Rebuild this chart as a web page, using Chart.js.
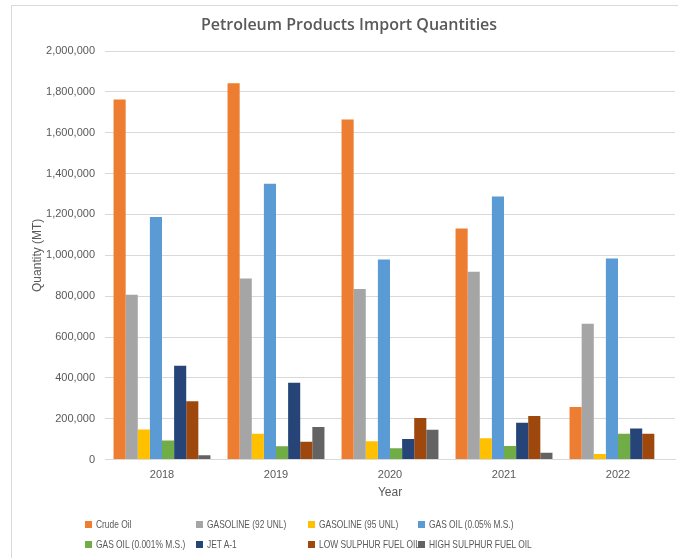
<!DOCTYPE html>
<html>
<head>
<meta charset="utf-8">
<title>Petroleum Products Import Quantities</title>
<script src="https://cdn.jsdelivr.net/npm/chart.js@4.4.1/dist/chart.umd.min.js"></script>
<style>
  body { margin: 0; background: #fff; }
  #wrap { position: relative; width: 678px; height: 558px; overflow: hidden; }
  #frame { position: absolute; left: 11px; top: 5px; width: 700px; height: 600px;
           border-left: 1px solid #d9d9d9; border-top: 1px solid #d9d9d9; }
  #myChart { position: absolute; left: 0; top: 0; }
  .lg { position: absolute; font: 11.5px "Liberation Sans", sans-serif;
        color: #595959; white-space: nowrap; line-height: 14px; }
  .lg i { display: inline-block; width: 7px; height: 7px; margin-right: 4px; vertical-align: 0px; }
  .lg span { display: inline-block; transform: scaleX(0.73); transform-origin: 0 50%; }
</style>
</head>
<body>
<div id="wrap">
  <div id="frame"></div>
  <canvas id="myChart" width="678" height="558"></canvas>
  <div id="legend"></div>
</div>
<script>
const years = ['2018', '2019', '2020', '2021', '2022'];

const crudeOil    = [1763000, 1842000, 1665000, 1131000, 258000];
const gasoline92  = [807000, 887000, 835000, 920000, 665000];
const gasoline95  = [147000, 127000, 90000, 105000, 28000];
const gasOil005   = [1188000, 1350000, 979000, 1288000, 984000];
const gasOil0001  = [93000, 65000, 55000, 67000, 127000];
const jetA1       = [459000, 376000, 101000, 180000, 152000];
const lowSulphur  = [286000, 87000, 204000, 214000, 126000];
const highSulphur = [21000, 160000, 146000, 33000, 0];

const yTicks = [0, 200000, 400000, 600000, 800000, 1000000, 1200000, 1400000, 1600000, 1800000, 2000000];

Chart.defaults.font.family = '"Liberation Sans", sans-serif';
Chart.defaults.color = '#595959';

const ctx = document.getElementById('myChart');

const chart = new Chart(ctx, {
  type: 'bar',
  data: {
    labels: years,
    datasets: [
      { label: 'Crude Oil', data: crudeOil, backgroundColor: '#ED7D31' },
      { label: 'GASOLINE (92 UNL)', data: gasoline92, backgroundColor: '#A5A5A5' },
      { label: 'GASOLINE (95 UNL)', data: gasoline95, backgroundColor: '#FFC000' },
      { label: 'GAS OIL (0.05% M.S.)', data: gasOil005, backgroundColor: '#5B9BD5' },
      { label: 'GAS OIL (0.001% M.S.)', data: gasOil0001, backgroundColor: '#70AD47' },
      { label: 'JET A-1', data: jetA1, backgroundColor: '#264478' },
      { label: 'LOW SULPHUR FUEL OIL', data: lowSulphur, backgroundColor: '#9E480E' },
      { label: 'HIGH SULPHUR FUEL OIL', data: highSulphur, backgroundColor: '#636363' }
    ]
  },
  options: {
    responsive: false,
    animation: false,
    categoryPercentage: 0.85,
    barPercentage: 1.0,
    layout: { padding: { left: 23, right: 3, top: 0, bottom: 57 } },
    plugins: {
      legend: { display: false },
      tooltip: { enabled: false },
      title: {
        display: true,
        text: 'Petroleum Products Import Quantities',
        color: '#595959',
        font: { family: '"Open Sans", sans-serif', size: 16, weight: '600' },
        padding: { top: 16, bottom: 15.8 }
      }
    },
    scales: {
      x: {
        grid: { display: false, drawTicks: false },
        border: { color: '#d9d9d9' },
        ticks: { padding: 10, font: { size: 11, lineHeight: 1 } },
        title: { display: true, text: 'Year', font: { size: 12 }, padding: { top: -5, bottom: 1 } }
      },
      y: {
        min: 0,
        max: 2000000,
        afterBuildTicks: (scale) => { scale.ticks = yTicks.map(v => ({ value: v })); },
        afterFit: (scale) => { scale.width = 82; },
        grid: { color: '#d9d9d9', drawTicks: false },
        border: { display: false },
        ticks: {
          padding: 10,
          font: { size: 11 },
          callback: (v) => v.toLocaleString('en-US')
        },
        title: { display: true, text: 'Quantity (MT)', font: { size: 12 }, padding: { top: 7, bottom: 0 } }
      }
    }
  }
});

// legend laid out as a 4-column grid under the plot
const legendCols = [85, 196, 308, 418];
const legendRows = [517, 537];
const legendBox = document.getElementById('legend');
chart.data.datasets.forEach((ds, i) => {
  const item = document.createElement('div');
  item.className = 'lg';
  item.style.left = legendCols[i % 4] + 'px';
  item.style.top = legendRows[Math.floor(i / 4)] + 'px';
  const swatch = document.createElement('i');
  swatch.style.background = ds.backgroundColor;
  const text = document.createElement('span');
  text.textContent = ds.label;
  item.appendChild(swatch);
  item.appendChild(text);
  legendBox.appendChild(item);
});
</script>
</body>
</html>
